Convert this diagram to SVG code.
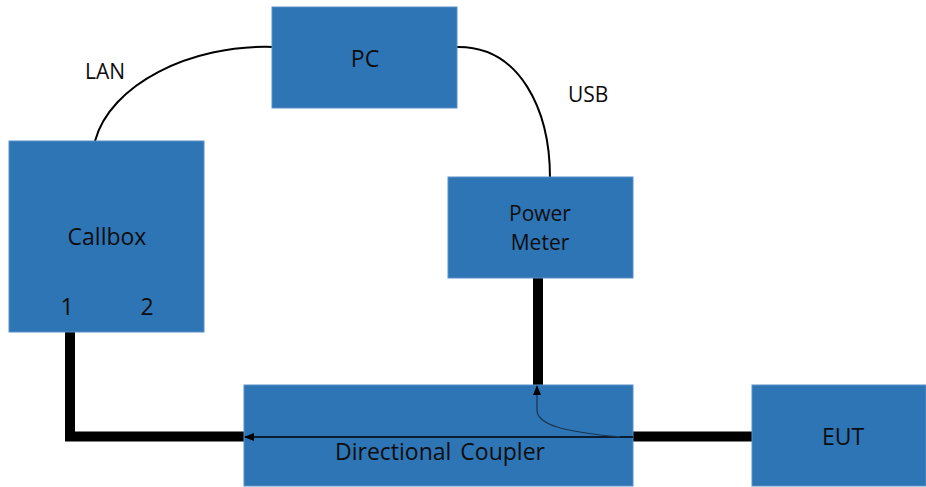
<svg xmlns="http://www.w3.org/2000/svg" width="926" height="487" viewBox="0 0 926 487">
<style>
.box{fill:#2E75B6;stroke:#5B8FC7;stroke-width:1}
.t{font-family:"Open Sans","Noto Sans",sans-serif;font-size:23px;fill:#0d0d0d;text-anchor:middle}
.pm{font-size:21px}
.lbl{font-family:"Open Sans","Noto Sans",sans-serif;font-size:21px;fill:#0d0d0d}
.thin{fill:none;stroke:#000;stroke-width:2}
.thick{fill:none;stroke:#000;stroke-width:10}
.arr{fill:none;stroke:#000;stroke-width:1.3}
.arr2{fill:none;stroke:#1a3550;stroke-width:1.3}
</style>
<defs>
<marker id="ah" markerWidth="10" markerHeight="8" refX="9" refY="4" orient="auto" markerUnits="userSpaceOnUse">
<path d="M0,0 L10,4 L0,8 Z" fill="#000"/>
</marker>
</defs>
<g id="connectors">
<path class="thin" d="M274,47 C190,44 110,85 95,141"/>
<path class="thin" d="M457,47 C520,46 550,110 550,178"/>
<path class="thick" d="M70,332 L70,436.5 L244,436.5"/>
<path class="thick" d="M538,278 L538,385"/>
<path class="thick" d="M633,436.5 L752,436.5"/>
</g>
<g id="callbox"><rect class="box" x="9" y="141" width="195" height="191"/>
<text class="t" x="107" y="245">Callbox</text>
<text class="t" x="67" y="315">1</text>
<text class="t" x="147" y="315">2</text></g>
<g id="pc"><rect class="box" x="272" y="7" width="185" height="101"/>
<text class="t" x="365" y="67">PC</text></g>
<g id="powermeter"><rect class="box" x="448" y="177" width="185" height="101"/>
<text class="t pm" x="540" y="221">Power</text>
<text class="t pm" x="540" y="250">Meter</text></g>
<g id="coupler"><rect class="box" x="244" y="385" width="389" height="101"/>
<text class="t" x="440" y="460" word-spacing="3">Directional Coupler</text></g>
<g id="eut"><rect class="box" x="752" y="385" width="174" height="101"/>
<text class="t" x="843" y="445">EUT</text></g>
<g id="internal">
<path class="arr" d="M633,437 L245,437" marker-end="url(#ah)"/>
<path class="arr2" d="M620,437 C565,432 537,425 537,410 L537,386" marker-end="url(#ah)"/>
</g>
<g id="labels">
<text class="lbl" x="85" y="79">LAN</text>
<text class="lbl" x="568" y="102">USB</text>
</g>
</svg>
